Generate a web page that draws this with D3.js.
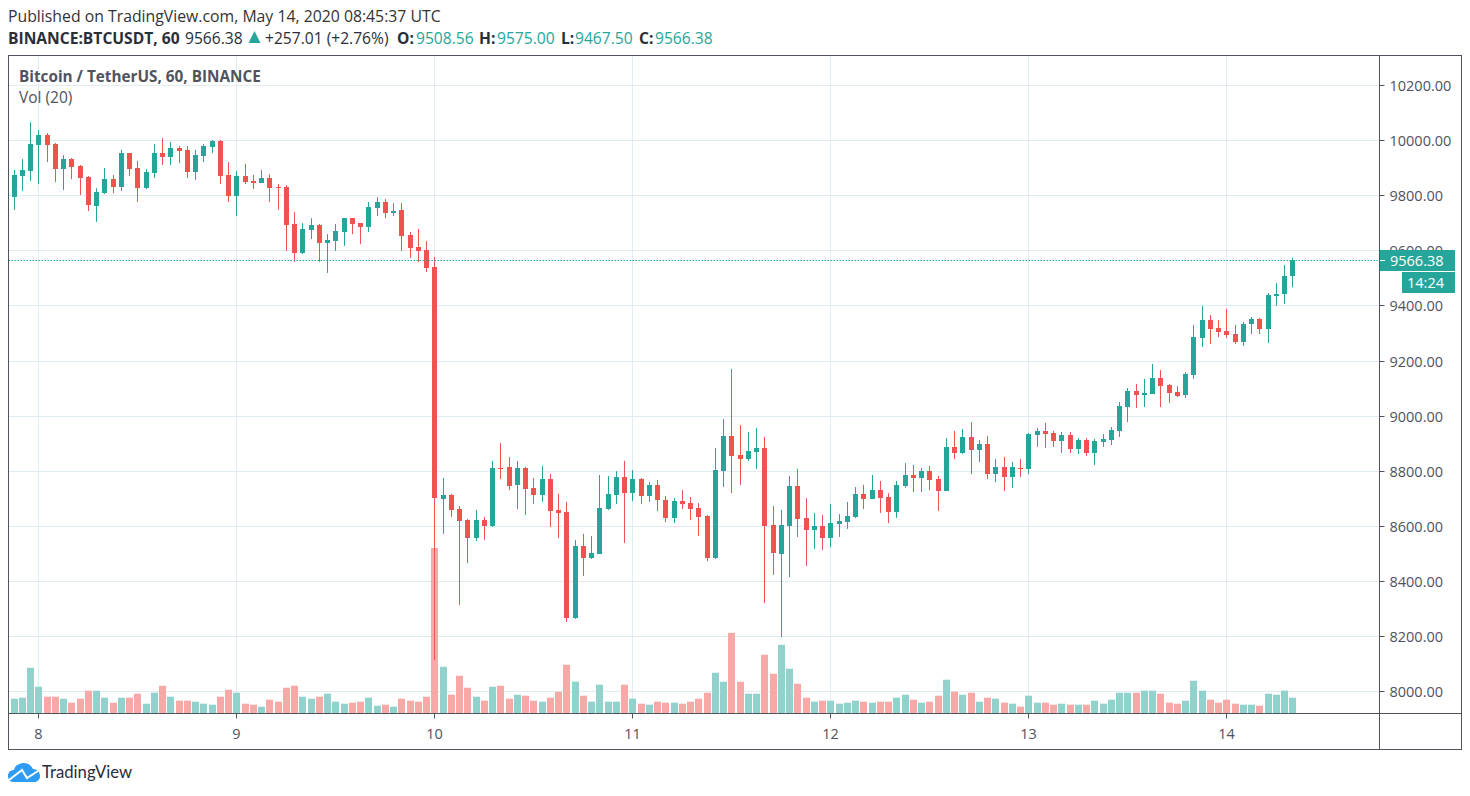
<!DOCTYPE html>
<html>
<head>
<meta charset="utf-8">
<script src="https://cdn.jsdelivr.net/npm/d3@7"></script>
<style>
  html, body { margin: 0; background: #fff; }
  svg { display: block; }
  text { font-family: "Open Sans", sans-serif; }
</style>
</head>
<body>
<div class="first"></div>
<script>
// hourly candles, hour 0 = May 8 00:00 UTC
const firstHour = -3;
const opens = [
  9796,9872,9890,9985,10021,9988,9897,9934,9908,9868,9763,9810,
  9861,9832,9956,9901,9828,9883,9956,9941,9974,9967,9887,9945,
  9977,9999,9876,9799,9872,9854,9847,9865,9832,9832,9698,9592,
  9676,9694,9629,9636,9669,9719,9701,9687,9756,9778,9738,9749,
  9658,9614,9603,9541,8699,8713,8662,8622,8557,8622,8601,8811,
  8815,8750,8811,8739,8713,8771,8659,8651,8266,8528,8484,8499,
  8662,8713,8779,8720,8771,8710,8750,8695,8630,8691,8684,8666,
  8637,8484,8800,8927,8859,8844,8869,8884,8604,8499,8601,8746,
  8630,8586,8601,8557,8608,8615,8633,8717,8699,8731,8706,8651,
  8746,8786,8775,8800,8771,8728,8888,8866,8924,8877,8898,8789,
  8815,8779,8811,8808,8931,8946,8938,8909,8931,8880,8913,8866,
  8906,8913,8946,9033,9091,9077,9080,9138,9113,9087,9077,9149,
  9284,9349,9320,9309,9298,9269,9334,9353,9316,9436,9443,9508.56
];
const highs = [
  9894,9934,10068,10039,10028,9992,9948,9937,9912,9872,9828,9901,
  9876,9967,9956,9927,9897,9988,10010,9996,9981,9981,9967,9988,
  10003,10003,9923,9890,9916,9876,9894,9879,9843,9839,9741,9701,
  9719,9698,9661,9698,9719,9719,9701,9778,9796,9788,9774,9774,
  9669,9680,9636,9578,8775,8717,8673,8626,8659,8633,8837,8902,
  8851,8837,8815,8775,8819,8790,8717,8688,8550,8572,8564,8786,
  8782,8800,8837,8804,8775,8760,8768,8710,8702,8731,8706,8684,
  8640,8884,8989,9171,8967,8942,8957,8924,8673,8659,8782,8808,
  8702,8648,8641,8681,8644,8688,8742,8750,8786,8764,8720,8764,
  8829,8822,8811,8819,8782,8920,8946,8953,8978,8913,8928,8844,
  8851,8833,8844,8938,8957,8975,8946,8942,8942,8920,8920,8917,
  8935,8960,9051,9102,9117,9135,9189,9167,9117,9109,9160,9331,
  9400,9367,9349,9389,9331,9342,9360,9356,9447,9483,9549,9575
];
const lows = [
  9749,9818,9854,9843,9923,9850,9821,9861,9803,9745,9705,9807,
  9810,9818,9872,9778,9825,9865,9912,9912,9919,9865,9858,9923,
  9956,9843,9778,9727,9843,9825,9847,9778,9749,9600,9560,9589,
  9643,9560,9520,9600,9618,9661,9625,9669,9727,9719,9727,9600,
  9574,9560,9523,8114,8572,8633,8314,8466,8546,8550,8597,8771,
  8731,8662,8641,8680,8688,8597,8557,8252,8263,8419,8481,8499,
  8659,8680,8539,8691,8680,8688,8655,8615,8611,8662,8622,8564,
  8473,8481,8742,8720,8750,8837,8808,8321,8423,8197,8415,8561,
  8455,8517,8513,8524,8561,8590,8630,8662,8699,8648,8611,8630,
  8739,8724,8724,8731,8655,8728,8844,8862,8789,8833,8771,8760,
  8728,8739,8779,8789,8888,8884,8888,8866,8866,8862,8855,8822,
  8888,8895,8924,8978,9029,9033,9080,9033,9047,9069,9066,9135,
  9251,9262,9287,9284,9262,9255,9298,9298,9265,9400,9407,9467.5
];
const closes = [
  9875,9894,9988,10021,9985,9897,9934,9905,9865,9767,9814,9861,
  9832,9956,9897,9828,9887,9956,9941,9974,9963,9887,9948,9981,
  9999,9872,9799,9872,9850,9847,9865,9828,9828,9694,9592,9680,
  9694,9629,9640,9672,9719,9698,9687,9759,9778,9738,9745,9654,
  9611,9600,9538,8704,8713,8659,8619,8557,8622,8601,8811,8808,
  8746,8811,8735,8713,8771,8655,8648,8266,8528,8484,8503,8666,
  8717,8779,8720,8771,8710,8750,8695,8630,8691,8680,8662,8633,
  8484,8804,8927,8855,8844,8873,8884,8601,8503,8604,8746,8626,
  8586,8601,8557,8611,8619,8637,8717,8699,8731,8702,8651,8750,
  8786,8775,8800,8768,8728,8888,8866,8924,8877,8898,8789,8815,
  8779,8815,8808,8935,8946,8935,8909,8931,8880,8913,8866,8909,
  8917,8949,9037,9091,9077,9084,9138,9109,9084,9073,9153,9287,
  9349,9316,9305,9295,9269,9334,9353,9316,9440,9443,9509,9566.38
];
// no volume axis in the picture, so these are relative heights
const volumes = [
  43,46,136,79,49,49,43,31,43,67,67,46,
  31,46,46,58,28,61,82,49,37,37,34,28,
  25,49,70,61,28,25,19,40,34,76,82,49,
  43,49,58,34,28,31,34,46,22,25,19,43,
  37,34,49,496,139,55,112,76,49,37,79,82,
  43,55,52,37,34,46,64,145,94,52,34,85,
  34,34,85,43,28,25,34,31,31,28,34,43,
  61,121,94,241,94,58,58,175,118,205,133,88,
  46,34,37,37,28,31,37,34,31,34,34,46,
  55,40,31,34,52,100,64,55,61,34,46,43,
  31,28,19,52,31,31,25,28,25,25,25,37,
  28,40,61,61,61,67,67,58,31,28,37,97,
  67,40,31,40,28,25,25,22,58,55,67,46
];
const priceTicks = [8000,8200,8400,8600,8800,9000,9200,9400,9600,9800,10000,10200];
const dayTicks = [0,24,48,72,96,120,144];
const dayLabels = ['8','9','10','11','12','13','14'];
const lastPrice = 9566.38;

const upColor = '#26a69a';
const downColor = '#ef5350';
const upVol = '#92d2cc';
const downVol = '#f7a9a7';
const frameColor = '#50535e';
const gridColor = '#e1ecf2';

const frame = {left: 8.5, right: 1461.5, top: 55.5, bottom: 749.5, axisX: 1379.5, axisY: 713.5};

const svg = d3.select('.first').append('svg')
  .attr('width', 1470)
  .attr('height', 796);

svg.append('rect').attr('width', 1470).attr('height', 796).attr('fill', '#fff');

const x = d3.scaleLinear().domain([-3.612, 162.57]).range([frame.left, frame.axisX]);
const y = d3.scaleLinear().domain([7919.3, 10310]).range([frame.axisY, frame.top]);
const yVol = d3.scaleLinear().domain([0, 496]).range([713, 548]);

const pxX = v => Math.round(x(v));
const rowY = v => Math.floor(y(v)) + 0.5;

// grid
const grid = svg.append('g');
grid.selectAll('line.h')
  .data(priceTicks)
  .enter().append('line')
  .attr('x1', frame.left).attr('x2', frame.axisX)
  .attr('y1', rowY).attr('y2', rowY)
  .attr('stroke', gridColor);
grid.selectAll('line.v')
  .data(dayTicks)
  .enter().append('line')
  .attr('x1', d => pxX(d) + 0.5).attr('x2', d => pxX(d) + 0.5)
  .attr('y1', frame.top).attr('y2', frame.axisY)
  .attr('stroke', gridColor);

const candles = opens.map((o, i) => ({
  hour: firstHour + i, open: o, high: highs[i], low: lows[i], close: closes[i], vol: volumes[i]
}));

// volume under the candles
svg.append('g').selectAll('rect')
  .data(candles)
  .enter().append('rect')
  .attr('x', d => pxX(d.hour) - 3)
  .attr('width', 7)
  .attr('y', d => yVol(d.vol))
  .attr('height', d => yVol(0) - yVol(d.vol))
  .attr('fill', d => d.close >= d.open ? upVol : downVol);

const candle = svg.append('g').selectAll('g')
  .data(candles)
  .enter().append('g')
  .attr('fill', d => d.close >= d.open ? upColor : downColor);
candle.append('rect')
  .attr('x', d => pxX(d.hour))
  .attr('width', 1)
  .attr('y', d => y(d.high))
  .attr('height', d => y(d.low) - y(d.high));
candle.append('rect')
  .attr('x', d => pxX(d.hour) - 2)
  .attr('width', 5)
  .attr('y', d => Math.round(y(Math.max(d.open, d.close))))
  .attr('height', d => Math.max(1, Math.round(y(Math.min(d.open, d.close))) - Math.round(y(Math.max(d.open, d.close)))));

// axes, the 9600 label stays under the last price tag like in the original
const yAxis = d3.axisRight(y).tickValues(priceTicks).tickFormat(d3.format('.2f')).tickSize(5).tickPadding(5);
const yG = svg.append('g').attr('transform', `translate(${frame.axisX},0)`).call(yAxis);
yG.select('.domain').remove();
yG.selectAll('.tick').attr('transform', d => `translate(0,${rowY(d)})`);
yG.selectAll('line').attr('stroke', frameColor);
yG.selectAll('text').attr('fill', frameColor).attr('y', 1).style('font-size', '14.5px').style('font-family', '"Open Sans", sans-serif');

const xAxis = d3.axisBottom(x).tickValues(dayTicks).tickFormat((d, i) => dayLabels[i]).tickSize(5).tickPadding(10);
const xG = svg.append('g').attr('transform', `translate(0,${frame.axisY})`).call(xAxis);
xG.select('.domain').remove();
xG.selectAll('.tick').attr('transform', d => `translate(${pxX(d) + 0.5},0)`);
xG.selectAll('line').attr('stroke', frameColor);
xG.selectAll('text').attr('fill', frameColor).style('font-size', '14.5px').style('font-family', '"Open Sans", sans-serif');

// last price line and labels
svg.append('line')
  .attr('x1', frame.left).attr('x2', frame.axisX)
  .attr('y1', rowY(lastPrice)).attr('y2', rowY(lastPrice))
  .attr('stroke', upColor).attr('stroke-dasharray', '1.5 1.5');
svg.append('rect').attr('x', 1379).attr('y', 250).attr('width', 76).attr('height', 21).attr('fill', upColor);
svg.append('line').attr('x1', 1379.5).attr('x2', 1385).attr('y1', rowY(lastPrice)).attr('y2', rowY(lastPrice)).attr('stroke', '#fff');
svg.append('text').attr('x', 1390).attr('y', 265.5).attr('fill', '#fff').style('font-size', '14.5px').text('9566.38');
svg.append('rect').attr('x', 1402).attr('y', 272).attr('width', 53).attr('height', 21).attr('fill', upColor);
svg.append('text').attr('x', 1407).attr('y', 287.5).attr('fill', '#fff').style('font-size', '14.5px').text('14:24');

// frame
svg.append('rect')
  .attr('x', frame.left).attr('y', frame.top)
  .attr('width', frame.right - frame.left).attr('height', frame.bottom - frame.top)
  .attr('fill', 'none').attr('stroke', frameColor);
svg.append('line').attr('x1', frame.axisX).attr('x2', frame.axisX).attr('y1', frame.top).attr('y2', frame.bottom).attr('stroke', frameColor);
svg.append('line').attr('x1', frame.left).attr('x2', frame.right).attr('y1', frame.axisY).attr('y2', frame.axisY).attr('stroke', frameColor);

// header
svg.append('text').attr('x', 8).attr('y', 21.5).attr('fill', '#333').style('font-size', '15.8px')
  .text('Published on TradingView.com, May 14, 2020 08:45:37 UTC');
const head = svg.append('text').attr('y', 43.5).style('font-size', '15.6px').attr('fill', '#2a2e39');
head.append('tspan').attr('x', 8).style('font-weight', 700).text('BINANCE:BTCUSDT, 60');
head.append('tspan').attr('x', 185).text('9566.38');
head.append('tspan').attr('x', 265).text('+257.01 (+2.76%)');
[['O:', 397, '9508.56', 416], ['H:', 479, '9575.00', 497], ['L:', 561, '9467.50', 575], ['C:', 639, '9566.38', 655]].forEach(r => {
  head.append('tspan').attr('x', r[1]).style('font-weight', 700).text(r[0]);
  head.append('tspan').attr('x', r[3]).attr('fill', upColor).text(r[2]);
});
svg.append('path').attr('d', 'M248.500 43 L254.500 31 L260.500 43 Z').attr('fill', upColor);

// chart legend
svg.append('text').attr('x', 19).attr('y', 82).attr('fill', frameColor).style('font-size', '15.3px').style('font-weight', 700)
  .text('Bitcoin / TetherUS, 60, BINANCE');
svg.append('text').attr('x', 19).attr('y', 103).attr('fill', frameColor).style('font-size', '15.5px')
  .text('Vol (20)');

// logo
svg.append('path')
  .attr('d', 'M13 782 C9 782 8 778 8 776 C8 772 11 770 14 770 C15 765 20 763 24 763 C28 763 31 765 33 769 C37 769 40 772 40 776 C40 780 37 782 34 782 Z')
  .attr('fill', '#2e9cf4');
svg.append('path').attr('d', 'M9 780 L22 770 L27 778 L38 771').attr('fill', 'none').attr('stroke', '#fff').attr('stroke-width', 2);
svg.append('text').attr('x', 42).attr('y', 778).attr('fill', '#2a2e39').style('font-size', '16.7px').style('font-family', 'Lato, sans-serif')
  .text('TradingView');
</script>
</body>
</html>
